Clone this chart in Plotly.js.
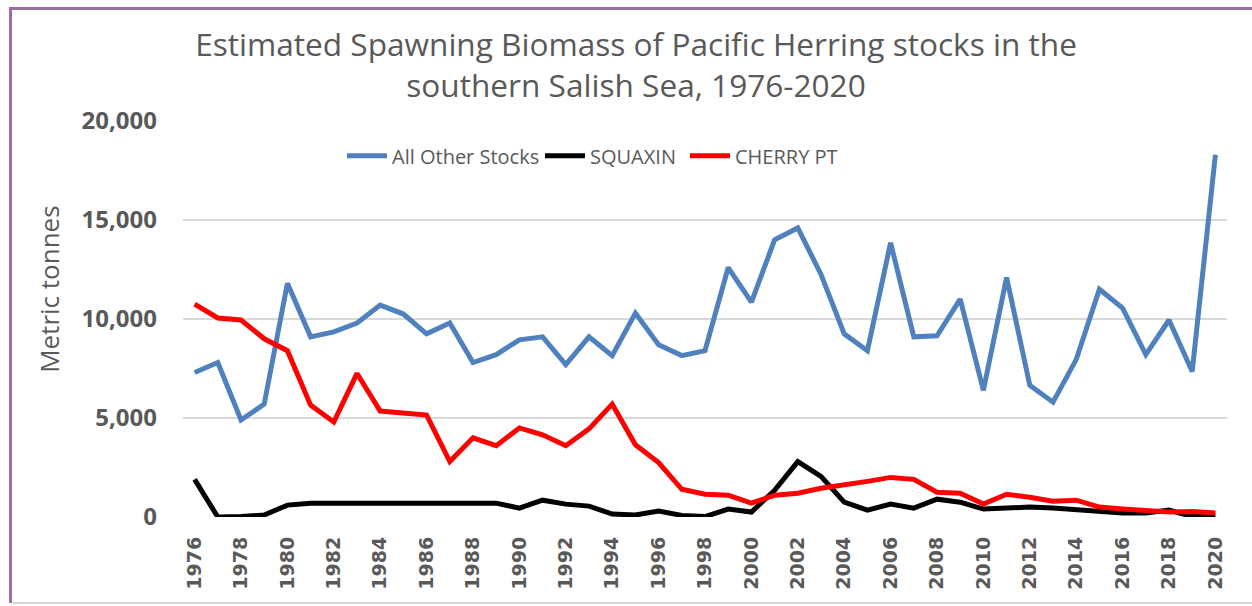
<!DOCTYPE html>
<html>
<head>
<meta charset="utf-8">
<script src="https://cdn.plot.ly/plotly-3.0.1.min.js"></script>
<style>
html,body{margin:0;padding:0;background:#fff;}
#chart{width:1252px;height:606px;position:relative;}
#frame{position:absolute;left:9px;top:7px;right:0;bottom:3px;border-top:3px solid #9b6fa3;border-left:3px solid #9b6fa3;pointer-events:none;}
#bottomline{position:absolute;left:12px;right:0;top:602px;height:2px;background:#d9d9d9;pointer-events:none;}
</style>
</head>
<body>
<div id="chart"></div>
<div id="frame"></div>
<div id="bottomline"></div>
<script>
const years = [];
for (let y = 1976; y <= 2020; y++) years.push(y);

const allOtherStocks = [7300, 7800, 4900, 5700, 11800, 9100, 9350, 9800, 10700, 10250,
  9250, 9800, 7800, 8200, 8950, 9100, 7700, 9100, 8150, 10300,
  8700, 8150, 8400, 12600, 10850, 14000, 14600, 12250, 9250, 8400,
  13850, 9100, 9150, 11000, 6400, 12100, 6650, 5800, 7950, 11500,
  10550, 8200, 9950, 7350, 18300];

const squaxin = [1900, 0, 30, 100, 600, 700, 700, 700, 700, 700,
  700, 700, 700, 700, 450, 850, 650, 550, 150, 100,
  300, 80, 20, 400, 250, 1350, 2800, 2050, 750, 350,
  650, 450, 900, 750, 400, 450, 500, 450, 350, 300,
  200, 200, 350, 20, 60];

const cherryPt = [10750, 10050, 9950, 9000, 8400, 5650, 4800, 7250, 5350, 5250,
  5150, 2800, 4000, 3600, 4500, 4150, 3600, 4450, 5700, 3650,
  2750, 1400, 1150, 1100, 700, 1100, 1200, 1450, 1600, 1800,
  2000, 1900, 1250, 1200, 650, 1150, 1000, 800, 850, 500,
  400, 300, 250, 280, 200];

const tickYears = years.filter(y => (y - 1976) % 2 === 0);
const yTickVals = [0, 5000, 10000, 15000, 20000];
const yTickText = ['0', '5,000', '10,000', '15,000', '20,000'];

const grey = '#595959';
const legendFont = {family: 'Open Sans, sans-serif', size: 20, color: grey};
const traces = [
  {x: years, y: allOtherStocks, name: 'All Other Stocks', type: 'scatter', mode: 'lines',
   line: {color: '#4f81bd', width: 5}, legend: 'legend'},
  {x: years, y: squaxin, name: 'SQUAXIN', type: 'scatter', mode: 'lines',
   line: {color: '#000000', width: 5}, legend: 'legend2'},
  {x: years, y: cherryPt, name: 'CHERRY PT', type: 'scatter', mode: 'lines',
   line: {color: '#ff0000', width: 5}, legend: 'legend3'}
];

function leg(px) {
  return {orientation: 'h', x: (px - 183) / 1044, xanchor: 'left', y: 0.912, yanchor: 'middle',
    font: legendFont, bgcolor: 'rgba(0,0,0,0)', itemwidth: 40};
}

const layout = {
  width: 1252, height: 606,
  paper_bgcolor: '#ffffff', plot_bgcolor: '#ffffff',
  margin: {l: 183, r: 25, t: 121, b: 88.7},
  title: {
    text: 'Estimated Spawning Biomass of Pacific Herring stocks in the<br>southern Salish Sea, 1976-2020',
    font: {family: 'Open Sans, sans-serif', size: 31.6, color: grey},
    x: 0.508, xanchor: 'center', y: 0.908, yanchor: 'middle'
  },
  showlegend: true,
  legend: leg(342),
  legend2: leg(540),
  legend3: leg(685),
  xaxis: {
    range: [1975.5, 2020.5],
    tickmode: 'array', tickvals: tickYears, ticktext: tickYears.map(String),
    tickangle: -90,
    tickfont: {family: 'DejaVu Sans, sans-serif', size: 19, color: grey, weight: 'bold'},
    ticklabelstandoff: 15,
    showgrid: false, zeroline: false, showline: false, ticks: ''
  },
  yaxis: {
    range: [0, 20000],
    tickvals: yTickVals,
    ticktext: yTickText,
    tickfont: {family: 'Open Sans, sans-serif', size: 24, color: grey, weight: 'bold'},
    ticklabelstandoff: 25,
    showgrid: true, gridcolor: '#d9d9d9', gridwidth: 2,
    zeroline: false, showline: false, ticks: ''
  },
  annotations: [{
    text: 'Metric tonnes', textangle: -90, showarrow: false,
    xref: 'paper', yref: 'paper', x: (49 - 183) / 1044, y: (517.3 - 290) / 396.3,
    xanchor: 'center', yanchor: 'middle',
    font: {family: 'Open Sans, sans-serif', size: 26, color: grey}
  }]
};

Plotly.newPlot('chart', traces, layout, {displayModeBar: false, staticPlot: true});
</script>
</body>
</html>
